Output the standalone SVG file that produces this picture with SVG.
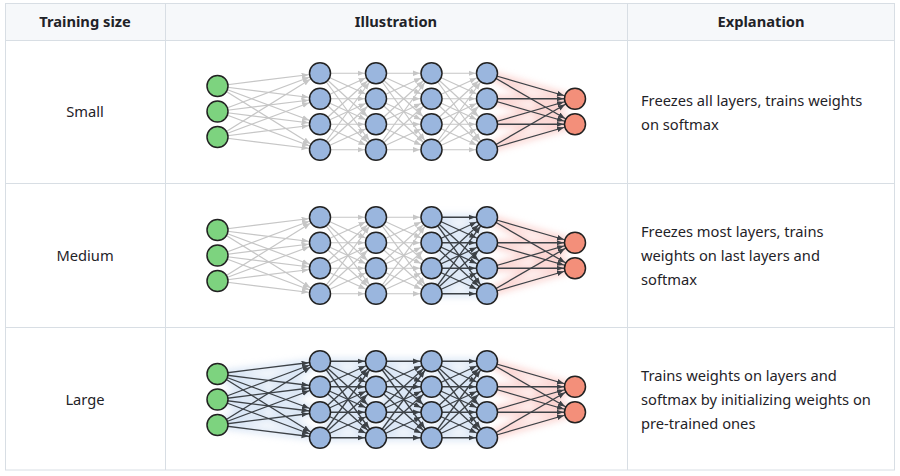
<svg xmlns="http://www.w3.org/2000/svg" xmlns:xlink="http://www.w3.org/1999/xlink" width="900" height="476" viewBox="0 0 900 476">
<style>
.txt{font-family:"Noto Sans","Open Sans","Liberation Sans",sans-serif;font-size:14.7px;fill:#1f2328}
.hd{font-weight:bold}
.grid{stroke:#d8dee4;stroke-width:1;fill:none}
.in{fill:#7dd37f;stroke:#222;stroke-width:1.5}
.hid{fill:#9ab6de;stroke:#222;stroke-width:1.5}
.out{fill:#f38f7a;stroke:#222;stroke-width:1.5}
.gray{stroke:#c6c6c6;stroke-width:1.2;fill:none}
.dark{stroke:#3c4146;stroke-width:1.3;fill:none}
.rglow{stroke:#f7a9a3;stroke-width:6;fill:none;opacity:0.5}
.bglow{stroke:#b4cceb;stroke-width:6;fill:none;opacity:0.5}
</style>
<defs>
<filter id="blur" x="-25%" y="-50%" width="150%" height="200%"><feGaussianBlur stdDeviation="3.5"/></filter>
<marker id="ag" markerUnits="userSpaceOnUse" markerWidth="8" markerHeight="6" refX="18.5" refY="2.8" orient="auto"><path d="M0,0 L7,2.8 L0,5.6 z" fill="#c6c6c6"/></marker>
<marker id="ad" markerUnits="userSpaceOnUse" markerWidth="8" markerHeight="6" refX="18.5" refY="2.8" orient="auto"><path d="M0,0 L7,2.8 L0,5.6 z" fill="#3c4146"/></marker>
<g id="e01">
<line x1="217.5" y1="-25.5" x2="320" y2="-38.25"/><line x1="217.5" y1="-25.5" x2="320" y2="-12.75"/><line x1="217.5" y1="-25.5" x2="320" y2="12.75"/><line x1="217.5" y1="-25.5" x2="320" y2="38.25"/>
<line x1="217.5" y1="0" x2="320" y2="-38.25"/><line x1="217.5" y1="0" x2="320" y2="-12.75"/><line x1="217.5" y1="0" x2="320" y2="12.75"/><line x1="217.5" y1="0" x2="320" y2="38.25"/>
<line x1="217.5" y1="25.5" x2="320" y2="-38.25"/><line x1="217.5" y1="25.5" x2="320" y2="-12.75"/><line x1="217.5" y1="25.5" x2="320" y2="12.75"/><line x1="217.5" y1="25.5" x2="320" y2="38.25"/>
</g>
<g id="e12">
<line x1="320" y1="-38.25" x2="376" y2="-38.25"/><line x1="320" y1="-38.25" x2="376" y2="-12.75"/><line x1="320" y1="-38.25" x2="376" y2="12.75"/><line x1="320" y1="-38.25" x2="376" y2="38.25"/>
<line x1="320" y1="-12.75" x2="376" y2="-38.25"/><line x1="320" y1="-12.75" x2="376" y2="-12.75"/><line x1="320" y1="-12.75" x2="376" y2="12.75"/><line x1="320" y1="-12.75" x2="376" y2="38.25"/>
<line x1="320" y1="12.75" x2="376" y2="-38.25"/><line x1="320" y1="12.75" x2="376" y2="-12.75"/><line x1="320" y1="12.75" x2="376" y2="12.75"/><line x1="320" y1="12.75" x2="376" y2="38.25"/>
<line x1="320" y1="38.25" x2="376" y2="-38.25"/><line x1="320" y1="38.25" x2="376" y2="-12.75"/><line x1="320" y1="38.25" x2="376" y2="12.75"/><line x1="320" y1="38.25" x2="376" y2="38.25"/>
</g>
<g id="e23">
<line x1="376" y1="-38.25" x2="431.5" y2="-38.25"/><line x1="376" y1="-38.25" x2="431.5" y2="-12.75"/><line x1="376" y1="-38.25" x2="431.5" y2="12.75"/><line x1="376" y1="-38.25" x2="431.5" y2="38.25"/>
<line x1="376" y1="-12.75" x2="431.5" y2="-38.25"/><line x1="376" y1="-12.75" x2="431.5" y2="-12.75"/><line x1="376" y1="-12.75" x2="431.5" y2="12.75"/><line x1="376" y1="-12.75" x2="431.5" y2="38.25"/>
<line x1="376" y1="12.75" x2="431.5" y2="-38.25"/><line x1="376" y1="12.75" x2="431.5" y2="-12.75"/><line x1="376" y1="12.75" x2="431.5" y2="12.75"/><line x1="376" y1="12.75" x2="431.5" y2="38.25"/>
<line x1="376" y1="38.25" x2="431.5" y2="-38.25"/><line x1="376" y1="38.25" x2="431.5" y2="-12.75"/><line x1="376" y1="38.25" x2="431.5" y2="12.75"/><line x1="376" y1="38.25" x2="431.5" y2="38.25"/>
</g>
<g id="e34">
<line x1="431.5" y1="-38.25" x2="487" y2="-38.25"/><line x1="431.5" y1="-38.25" x2="487" y2="-12.75"/><line x1="431.5" y1="-38.25" x2="487" y2="12.75"/><line x1="431.5" y1="-38.25" x2="487" y2="38.25"/>
<line x1="431.5" y1="-12.75" x2="487" y2="-38.25"/><line x1="431.5" y1="-12.75" x2="487" y2="-12.75"/><line x1="431.5" y1="-12.75" x2="487" y2="12.75"/><line x1="431.5" y1="-12.75" x2="487" y2="38.25"/>
<line x1="431.5" y1="12.75" x2="487" y2="-38.25"/><line x1="431.5" y1="12.75" x2="487" y2="-12.75"/><line x1="431.5" y1="12.75" x2="487" y2="12.75"/><line x1="431.5" y1="12.75" x2="487" y2="38.25"/>
<line x1="431.5" y1="38.25" x2="487" y2="-38.25"/><line x1="431.5" y1="38.25" x2="487" y2="-12.75"/><line x1="431.5" y1="38.25" x2="487" y2="12.75"/><line x1="431.5" y1="38.25" x2="487" y2="38.25"/>
</g>
<g id="e45">
<line x1="487" y1="-38.25" x2="575" y2="-12.75"/><line x1="487" y1="-38.25" x2="575" y2="12.75"/>
<line x1="487" y1="-12.75" x2="575" y2="-12.75"/><line x1="487" y1="-12.75" x2="575" y2="12.75"/>
<line x1="487" y1="12.75" x2="575" y2="-12.75"/><line x1="487" y1="12.75" x2="575" y2="12.75"/>
<line x1="487" y1="38.25" x2="575" y2="-12.75"/><line x1="487" y1="38.25" x2="575" y2="12.75"/>
</g>
</defs>

<rect x="0" y="0" width="900" height="476" fill="#ffffff"/>

<g id="table">
<rect x="5.5" y="3.5" width="889" height="37" fill="#f6f8fa"/>
<rect class="grid" x="5.5" y="3.5" width="889" height="466.5"/>
<line class="grid" x1="5.5" y1="40.5" x2="894.5" y2="40.5"/>
<line class="grid" x1="5.5" y1="183.5" x2="894.5" y2="183.5"/>
<line class="grid" x1="5.5" y1="327.5" x2="894.5" y2="327.5"/>
<line class="grid" x1="165.5" y1="3.5" x2="165.5" y2="470"/>
<line class="grid" x1="627.5" y1="3.5" x2="627.5" y2="470"/>
</g>

<g id="texts">
<text class="txt hd" x="85" y="27" text-anchor="middle">Training size</text>
<text class="txt hd" x="396" y="27" text-anchor="middle">Illustration</text>
<text class="txt hd" x="761" y="27" text-anchor="middle">Explanation</text>
<text class="txt" x="85" y="117" text-anchor="middle">Small</text>
<text class="txt" x="85" y="261" text-anchor="middle">Medium</text>
<text class="txt" x="85" y="405" text-anchor="middle">Large</text>
<text class="txt" x="641" y="106">Freezes all layers, trains weights</text>
<text class="txt" x="641" y="130">on softmax</text>
<text class="txt" x="641" y="237">Freezes most layers, trains</text>
<text class="txt" x="641" y="261">weights on last layers and</text>
<text class="txt" x="641" y="285">softmax</text>
<text class="txt" x="641" y="381">Trains weights on layers and</text>
<text class="txt" x="641" y="405">softmax by initializing weights on</text>
<text class="txt" x="641" y="429">pre-trained ones</text>
</g>

<g id="connectors">
<g id="conn-small" transform="translate(0,111.5)">
<use xlink:href="#e45" class="rglow" filter="url(#blur)"/>
<use xlink:href="#e01" class="gray" marker-end="url(#ag)"/>
<use xlink:href="#e12" class="gray" marker-end="url(#ag)"/>
<use xlink:href="#e23" class="gray" marker-end="url(#ag)"/>
<use xlink:href="#e34" class="gray" marker-end="url(#ag)"/>
<use xlink:href="#e45" class="dark" marker-end="url(#ad)"/>
</g>
<g id="conn-medium" transform="translate(0,255.5)">
<use xlink:href="#e34" class="bglow" filter="url(#blur)"/>
<use xlink:href="#e45" class="rglow" filter="url(#blur)"/>
<use xlink:href="#e01" class="gray" marker-end="url(#ag)"/>
<use xlink:href="#e12" class="gray" marker-end="url(#ag)"/>
<use xlink:href="#e23" class="gray" marker-end="url(#ag)"/>
<use xlink:href="#e34" class="dark" marker-end="url(#ad)"/>
<use xlink:href="#e45" class="dark" marker-end="url(#ad)"/>
</g>
<g id="conn-large" transform="translate(0,399.5)">
<use xlink:href="#e01" class="bglow" filter="url(#blur)"/>
<use xlink:href="#e12" class="bglow" filter="url(#blur)"/>
<use xlink:href="#e23" class="bglow" filter="url(#blur)"/>
<use xlink:href="#e34" class="bglow" filter="url(#blur)"/>
<use xlink:href="#e45" class="rglow" filter="url(#blur)"/>
<use xlink:href="#e01" class="dark" marker-end="url(#ad)"/>
<use xlink:href="#e12" class="dark" marker-end="url(#ad)"/>
<use xlink:href="#e23" class="dark" marker-end="url(#ad)"/>
<use xlink:href="#e34" class="dark" marker-end="url(#ad)"/>
<use xlink:href="#e45" class="dark" marker-end="url(#ad)"/>
</g>
</g>

<g id="nodes-small" transform="translate(0,111.5)">
<g id="s-i1"><circle class="in" cx="217.5" cy="-25.5" r="10.5"/></g>
<g id="s-i2"><circle class="in" cx="217.5" cy="0" r="10.5"/></g>
<g id="s-i3"><circle class="in" cx="217.5" cy="25.5" r="10.5"/></g>
<g id="s-h1a"><circle class="hid" cx="320" cy="-38.25" r="10.5"/></g>
<g id="s-h1b"><circle class="hid" cx="320" cy="-12.75" r="10.5"/></g>
<g id="s-h1c"><circle class="hid" cx="320" cy="12.75" r="10.5"/></g>
<g id="s-h1d"><circle class="hid" cx="320" cy="38.25" r="10.5"/></g>
<g id="s-h2a"><circle class="hid" cx="376" cy="-38.25" r="10.5"/></g>
<g id="s-h2b"><circle class="hid" cx="376" cy="-12.75" r="10.5"/></g>
<g id="s-h2c"><circle class="hid" cx="376" cy="12.75" r="10.5"/></g>
<g id="s-h2d"><circle class="hid" cx="376" cy="38.25" r="10.5"/></g>
<g id="s-h3a"><circle class="hid" cx="431.5" cy="-38.25" r="10.5"/></g>
<g id="s-h3b"><circle class="hid" cx="431.5" cy="-12.75" r="10.5"/></g>
<g id="s-h3c"><circle class="hid" cx="431.5" cy="12.75" r="10.5"/></g>
<g id="s-h3d"><circle class="hid" cx="431.5" cy="38.25" r="10.5"/></g>
<g id="s-h4a"><circle class="hid" cx="487" cy="-38.25" r="10.5"/></g>
<g id="s-h4b"><circle class="hid" cx="487" cy="-12.75" r="10.5"/></g>
<g id="s-h4c"><circle class="hid" cx="487" cy="12.75" r="10.5"/></g>
<g id="s-h4d"><circle class="hid" cx="487" cy="38.25" r="10.5"/></g>
<g id="s-o1"><circle class="out" cx="575" cy="-12.75" r="10.5"/></g>
<g id="s-o2"><circle class="out" cx="575" cy="12.75" r="10.5"/></g>
</g>

<g id="nodes-medium" transform="translate(0,255.5)">
<g id="m-i1"><circle class="in" cx="217.5" cy="-25.5" r="10.5"/></g>
<g id="m-i2"><circle class="in" cx="217.5" cy="0" r="10.5"/></g>
<g id="m-i3"><circle class="in" cx="217.5" cy="25.5" r="10.5"/></g>
<g id="m-h1a"><circle class="hid" cx="320" cy="-38.25" r="10.5"/></g>
<g id="m-h1b"><circle class="hid" cx="320" cy="-12.75" r="10.5"/></g>
<g id="m-h1c"><circle class="hid" cx="320" cy="12.75" r="10.5"/></g>
<g id="m-h1d"><circle class="hid" cx="320" cy="38.25" r="10.5"/></g>
<g id="m-h2a"><circle class="hid" cx="376" cy="-38.25" r="10.5"/></g>
<g id="m-h2b"><circle class="hid" cx="376" cy="-12.75" r="10.5"/></g>
<g id="m-h2c"><circle class="hid" cx="376" cy="12.75" r="10.5"/></g>
<g id="m-h2d"><circle class="hid" cx="376" cy="38.25" r="10.5"/></g>
<g id="m-h3a"><circle class="hid" cx="431.5" cy="-38.25" r="10.5"/></g>
<g id="m-h3b"><circle class="hid" cx="431.5" cy="-12.75" r="10.5"/></g>
<g id="m-h3c"><circle class="hid" cx="431.5" cy="12.75" r="10.5"/></g>
<g id="m-h3d"><circle class="hid" cx="431.5" cy="38.25" r="10.5"/></g>
<g id="m-h4a"><circle class="hid" cx="487" cy="-38.25" r="10.5"/></g>
<g id="m-h4b"><circle class="hid" cx="487" cy="-12.75" r="10.5"/></g>
<g id="m-h4c"><circle class="hid" cx="487" cy="12.75" r="10.5"/></g>
<g id="m-h4d"><circle class="hid" cx="487" cy="38.25" r="10.5"/></g>
<g id="m-o1"><circle class="out" cx="575" cy="-12.75" r="10.5"/></g>
<g id="m-o2"><circle class="out" cx="575" cy="12.75" r="10.5"/></g>
</g>

<g id="nodes-large" transform="translate(0,399.5)">
<g id="l-i1"><circle class="in" cx="217.5" cy="-25.5" r="10.5"/></g>
<g id="l-i2"><circle class="in" cx="217.5" cy="0" r="10.5"/></g>
<g id="l-i3"><circle class="in" cx="217.5" cy="25.5" r="10.5"/></g>
<g id="l-h1a"><circle class="hid" cx="320" cy="-38.25" r="10.5"/></g>
<g id="l-h1b"><circle class="hid" cx="320" cy="-12.75" r="10.5"/></g>
<g id="l-h1c"><circle class="hid" cx="320" cy="12.75" r="10.5"/></g>
<g id="l-h1d"><circle class="hid" cx="320" cy="38.25" r="10.5"/></g>
<g id="l-h2a"><circle class="hid" cx="376" cy="-38.25" r="10.5"/></g>
<g id="l-h2b"><circle class="hid" cx="376" cy="-12.75" r="10.5"/></g>
<g id="l-h2c"><circle class="hid" cx="376" cy="12.75" r="10.5"/></g>
<g id="l-h2d"><circle class="hid" cx="376" cy="38.25" r="10.5"/></g>
<g id="l-h3a"><circle class="hid" cx="431.5" cy="-38.25" r="10.5"/></g>
<g id="l-h3b"><circle class="hid" cx="431.5" cy="-12.75" r="10.5"/></g>
<g id="l-h3c"><circle class="hid" cx="431.5" cy="12.75" r="10.5"/></g>
<g id="l-h3d"><circle class="hid" cx="431.5" cy="38.25" r="10.5"/></g>
<g id="l-h4a"><circle class="hid" cx="487" cy="-38.25" r="10.5"/></g>
<g id="l-h4b"><circle class="hid" cx="487" cy="-12.75" r="10.5"/></g>
<g id="l-h4c"><circle class="hid" cx="487" cy="12.75" r="10.5"/></g>
<g id="l-h4d"><circle class="hid" cx="487" cy="38.25" r="10.5"/></g>
<g id="l-o1"><circle class="out" cx="575" cy="-12.75" r="10.5"/></g>
<g id="l-o2"><circle class="out" cx="575" cy="12.75" r="10.5"/></g>
</g>
</svg>
